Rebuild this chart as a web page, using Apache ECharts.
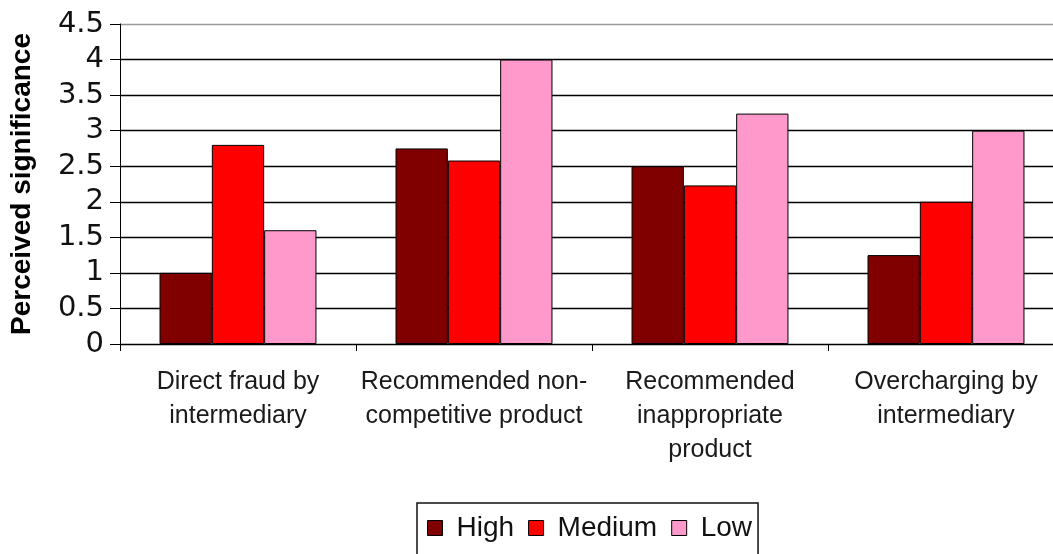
<!DOCTYPE html>
<html>
<head>
<meta charset="utf-8">
<script src="https://cdn.jsdelivr.net/npm/echarts@6/dist/echarts.min.js"></script>
<style>
  html, body { margin: 0; padding: 0; background: #fff; }
  #chart { width: 1053px; height: 554px; }
</style>
</head>
<body>
<div id="chart"></div>
<script>
// Perceived significance of intermediary risks, by rating group
const categories = [
  'Direct fraud by\nintermediary',
  'Recommended non-\ncompetitive product',
  'Recommended\ninappropriate\nproduct',
  'Overcharging by\nintermediary'
];
const highValues = [1.0, 2.75, 2.5, 1.25];
const mediumValues = [2.8, 2.58, 2.23, 2.0];
const lowValues = [1.6, 4.0, 3.24, 3.0];
const seriesNames = ['High', 'Medium', 'Low'];
const seriesColors = ['#800000', '#ff0000', '#ff99cc'];

const chart = echarts.init(document.getElementById('chart'), null, { renderer: 'canvas' });

// grid lines: black, the top one (plot border) grey
const splitColors = ['#000', '#000', '#000', '#000', '#000', '#000', '#000', '#000', '#000', '#9a9a9a'];

function barSeries(name, data, color) {
  return {
    name: name,
    type: 'bar',
    data: data,
    barGap: '0%',
    barCategoryGap: '33.5%',
    itemStyle: { color: color, borderColor: '#000', borderWidth: 1 },
    emphasis: { disabled: true }
  };
}

chart.setOption({
  animation: false,
  backgroundColor: '#fff',
  // the plot runs a little past the right edge of the canvas
  grid: { left: 120, top: 24, right: -11, height: 320, containLabel: false, outerBoundsMode: 'none' },
  legend: {
    data: seriesNames,
    left: 417,
    top: 503,
    icon: 'rect',
    itemWidth: 15,
    itemHeight: 15,
    itemGap: 14,
    padding: [10, 6, 30, 10],
    borderColor: '#111',
    borderWidth: 1.5,
    textStyle: {
      fontFamily: 'Liberation Sans, Arial, sans-serif',
      fontSize: 28,
      color: '#111',
      lineHeight: 30,
      padding: [0, 0, 0, 9]
    },
    itemStyle: { borderColor: '#000', borderWidth: 1 }
  },
  xAxis: {
    type: 'category',
    data: categories,
    axisLine: { lineStyle: { color: '#000', width: 1 } },
    axisTick: { show: true, length: 7, lineStyle: { color: '#000' } },
    axisLabel: {
      interval: 0,
      margin: 21,
      fontFamily: 'Liberation Sans, Arial, sans-serif',
      fontSize: 25,
      lineHeight: 34,
      color: '#1a1a1a'
    },
    splitLine: { show: false }
  },
  yAxis: {
    type: 'value',
    min: 0,
    max: 4.5,
    interval: 0.5,
    name: 'Perceived significance',
    nameLocation: 'middle',
    nameGap: 84,
    nameTextStyle: {
      fontFamily: 'Liberation Sans, Arial, sans-serif',
      fontSize: 28,
      fontWeight: 'bold',
      color: '#000'
    },
    axisLine: { show: true, lineStyle: { color: '#000', width: 1 } },
    axisTick: { show: true, length: 10, lineStyle: { color: '#000' } },
    axisLabel: {
      margin: 16,
      fontFamily: 'DejaVu Sans, sans-serif',
      fontSize: 29,
      color: '#111',
      formatter: function (v) { return String(v); }
    },
    splitLine: { show: true, lineStyle: { color: splitColors, width: 1.3 } }
  },
  series: [
    barSeries(seriesNames[0], highValues, seriesColors[0]),
    barSeries(seriesNames[1], mediumValues, seriesColors[1]),
    barSeries(seriesNames[2], lowValues, seriesColors[2])
  ]
});
</script>
</body>
</html>
